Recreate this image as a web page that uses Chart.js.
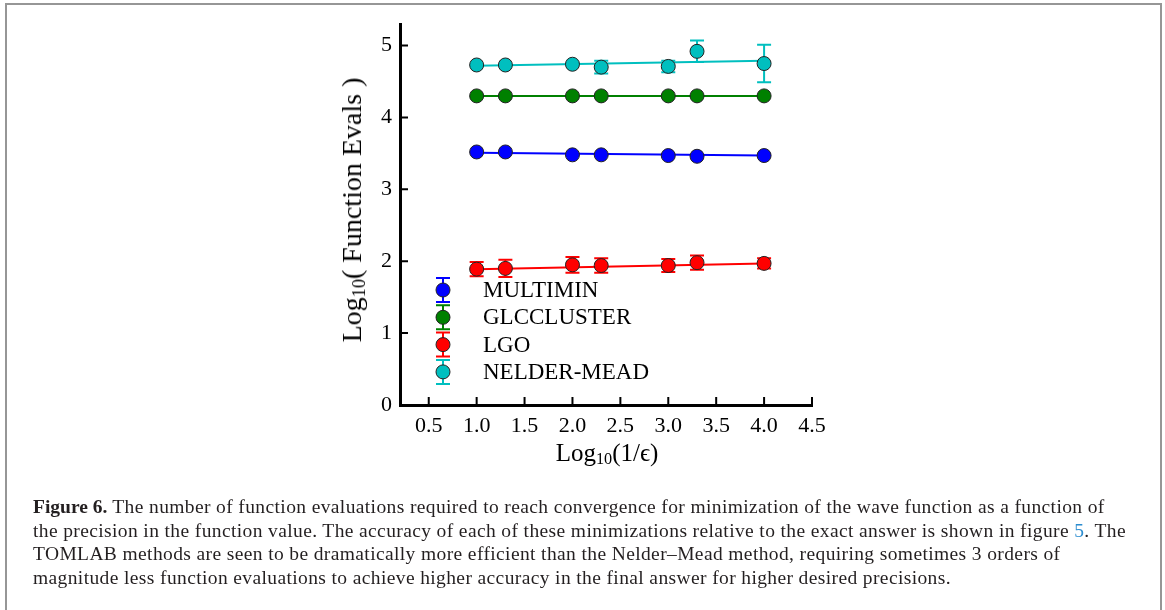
<!DOCTYPE html>
<html>
<head>
<meta charset="utf-8">
<script src="https://cdn.jsdelivr.net/npm/chart.js@4.4.1/dist/chart.umd.min.js"></script>
<style>
body { margin: 0; width: 1165px; height: 610px; overflow: hidden; background: #fff; position: relative; font-family: "Liberation Serif", serif; }
#frame { position: absolute; left: 5px; top: 3px; width: 1157px; height: 640px; border: 2px solid #969696; box-sizing: border-box; }
#wrap { position: absolute; left: 0; top: 0; width: 1165px; height: 610px; }
.ytitle { position: absolute; left: 352px; top: 210px; transform: translate(-50%, -50%) rotate(-90deg); font-size: 28px; white-space: nowrap; }
.xtitle { position: absolute; left: 607px; top: 453px; transform: translate(-50%, -50%); font-size: 25px; white-space: nowrap; }
sub { font-size: 0.65em; vertical-align: -0.2em; line-height: 0; }
.caption { position: absolute; left: 33px; top: 495px; font-size: 19.5px; line-height: 23.7px; letter-spacing: 0.38px; color: #231f20; white-space: nowrap; }
.caption b { font-weight: bold; letter-spacing: 0; }
.caption .ref { color: #2a8ccf; }
</style>
</head>
<body>
<div id="frame"></div>
<div id="wrap"><canvas id="evals-chart"></canvas></div>
<div class="ytitle">Log<sub>10</sub>( Function Evals )</div>
<div class="xtitle">Log<sub>10</sub>(1/&#1013;)</div>
<div class="caption">
<div><b>Figure 6.</b> The number of function evaluations required to reach convergence for minimization of the wave function as a function of</div>
<div>the precision in the function value. The accuracy of each of these minimizations relative to the exact answer is shown in figure <span class="ref">5</span>. The</div>
<div>TOMLAB methods are seen to be dramatically more efficient than the Nelder&ndash;Mead method, requiring sometimes 3 orders of</div>
<div>magnitude less function evaluations to achieve higher accuracy in the final answer for higher desired precisions.</div>
</div>
<script>
// data
const xVals = [1.0, 1.3, 2.0, 2.3, 3.0, 3.3, 4.0];
const multimin = [3.52, 3.52, 3.48, 3.48, 3.47, 3.46, 3.47];
const glccluster = [4.30, 4.30, 4.30, 4.30, 4.30, 4.30, 4.30];
const lgo = [1.89, 1.90, 1.95, 1.94, 1.94, 1.98, 1.97];
const nelderMead = [4.73, 4.73, 4.74, 4.70, 4.71, 4.92, 4.75];

const multiminErr = [0, 0, 0, 0, 0, 0, 0];
const glcclusterErr = [0, 0, 0, 0, 0, 0, 0];
const lgoErr = [0.10, 0.12, 0.11, 0.10, 0.09, 0.10, 0.07];
const nelderMeadErr = [0, 0, 0, 0.09, 0.08, 0.15, 0.26];

// fitted lines (end points)
const fitX = [1.0, 4.0];
const multiminFit = [3.51, 3.47];
const glcclusterFit = [4.30, 4.30];
const lgoFit = [1.89, 1.97];
const nelderMeadFit = [4.72, 4.79];

const xTicks = [0.5, 1.0, 1.5, 2.0, 2.5, 3.0, 3.5, 4.0, 4.5];
const yTicks = [0, 1, 2, 3, 4, 5];

const seriesNames = ['MULTIMIN', 'GLCCLUSTER', 'LGO', 'NELDER-MEAD'];
const seriesColors = ['#0000ff', '#008000', '#ff0000', '#00bfbf'];

const pts = (xs, ys) => xs.map((x, i) => ({ x: x, y: ys[i] }));

const pointSets = [multimin, glccluster, lgo, nelderMead];
const errSets = [multiminErr, glcclusterErr, lgoErr, nelderMeadErr];
const fitSets = [multiminFit, glcclusterFit, lgoFit, nelderMeadFit];

const datasets = [];
pointSets.forEach((ys, i) => {
    datasets.push({
        label: seriesNames[i],
        data: pts(xVals, ys),
        errors: errSets[i],
        showLine: false,
        pointRadius: 7,
        pointBackgroundColor: seriesColors[i],
        pointBorderColor: '#222',
        pointBorderWidth: 1,
        borderColor: seriesColors[i],
        order: 1
    });
});
fitSets.forEach((ys, i) => {
    datasets.push({
        label: seriesNames[i] + ' fit',
        data: pts(fitX, ys),
        showLine: true,
        pointRadius: 0,
        borderColor: seriesColors[i],
        borderWidth: 2,
        order: 2
    });
});

const serif = '"Liberation Serif", serif';

// error bars drawn just under each marker set
const errorBars = {
    id: 'errorBars',
    beforeDatasetDraw(chart, args) {
        const ds = chart.data.datasets[args.index];
        if (!ds.errors) return;
        const ctx = chart.ctx;
        const xs = chart.scales.x, ys = chart.scales.y;
        ctx.save();
        ctx.strokeStyle = ds.borderColor;
        ctx.lineWidth = 2;
        ds.data.forEach((p, i) => {
            const e = ds.errors[i];
            if (!e) return;
            const px = xs.getPixelForValue(p.x);
            const top = ys.getPixelForValue(p.y + e);
            const bot = ys.getPixelForValue(p.y - e);
            ctx.beginPath();
            ctx.moveTo(px, top); ctx.lineTo(px, bot);
            ctx.moveTo(px - 7, top); ctx.lineTo(px + 7, top);
            ctx.moveTo(px - 7, bot); ctx.lineTo(px + 7, bot);
            ctx.stroke();
        });
        ctx.restore();
    }
};

// ticks pointing into the plot
const innerTicks = {
    id: 'innerTicks',
    afterDraw(chart) {
        const ctx = chart.ctx;
        const area = chart.chartArea;
        const xs = chart.scales.x, ys = chart.scales.y;
        ctx.save();
        ctx.strokeStyle = '#000';
        ctx.lineWidth = 2;
        ctx.beginPath();
        xs.ticks.forEach(t => {
            const px = xs.getPixelForValue(t.value);
            ctx.moveTo(px, area.bottom); ctx.lineTo(px, area.bottom - 8);
        });
        ys.ticks.forEach(t => {
            const py = ys.getPixelForValue(t.value);
            ctx.moveTo(area.left, py); ctx.lineTo(area.left + 8, py);
        });
        ctx.stroke();
        ctx.restore();
    }
};

// legend inside the plot, markers with error bars
const innerLegend = {
    id: 'innerLegend',
    afterDatasetsDraw(chart) {
        const ctx = chart.ctx;
        const area = chart.chartArea;
        const mx = area.left + 43;
        const tx = area.left + 83;
        ctx.save();
        seriesNames.forEach((name, i) => {
            const cy = area.top + 266 + i * 27.3;
            ctx.strokeStyle = seriesColors[i];
            ctx.lineWidth = 2;
            ctx.beginPath();
            ctx.moveTo(mx, cy - 12); ctx.lineTo(mx, cy + 12);
            ctx.moveTo(mx - 7, cy - 12); ctx.lineTo(mx + 7, cy - 12);
            ctx.moveTo(mx - 7, cy + 12); ctx.lineTo(mx + 7, cy + 12);
            ctx.stroke();
            ctx.beginPath();
            ctx.arc(mx, cy, 7, 0, Math.PI * 2);
            ctx.fillStyle = seriesColors[i];
            ctx.fill();
            ctx.lineWidth = 1;
            ctx.strokeStyle = '#222';
            ctx.stroke();
            ctx.fillStyle = '#000';
            ctx.font = '23px ' + serif;
            ctx.textBaseline = 'middle';
            ctx.textAlign = 'left';
            ctx.fillText(name, tx, cy + 1);
        });
        ctx.restore();
    }
};

const evalsChart = document.getElementById('evals-chart').getContext('2d');
const evalsChartInstance = new Chart(evalsChart, {
    type: 'scatter',
    data: { datasets: datasets },
    options: {
        responsive: true,
        maintainAspectRatio: false,
        animation: false,
        layout: { padding: { top: 24, right: 353, left: 0, bottom: 0 } },
        plugins: { legend: { display: false }, tooltip: { enabled: false } },
        scales: {
            x: {
                type: 'linear',
                min: 0.2,
                max: 4.5,
                afterBuildTicks: s => { s.ticks = xTicks.map(v => ({ value: v })); },
                afterFit: s => { s.height = 205; },
                grid: { display: false, drawTicks: false },
                border: { display: true, color: '#000', width: 3 },
                ticks: {
                    padding: 8,
                    color: '#000',
                    font: { family: serif, size: 22 },
                    callback: v => v.toFixed(1)
                }
            },
            y: {
                type: 'linear',
                min: 0,
                max: 5.3,
                afterBuildTicks: s => { s.ticks = yTicks.map(v => ({ value: v })); },
                afterFit: s => { s.width = 400; },
                grid: { display: false, drawTicks: false },
                border: { display: true, color: '#000', width: 3 },
                ticks: {
                    padding: 8,
                    color: '#000',
                    font: { family: serif, size: 22 },
                    callback: v => String(v)
                }
            }
        }
    },
    plugins: [errorBars, innerTicks, innerLegend]
});
</script>
</body>
</html>
